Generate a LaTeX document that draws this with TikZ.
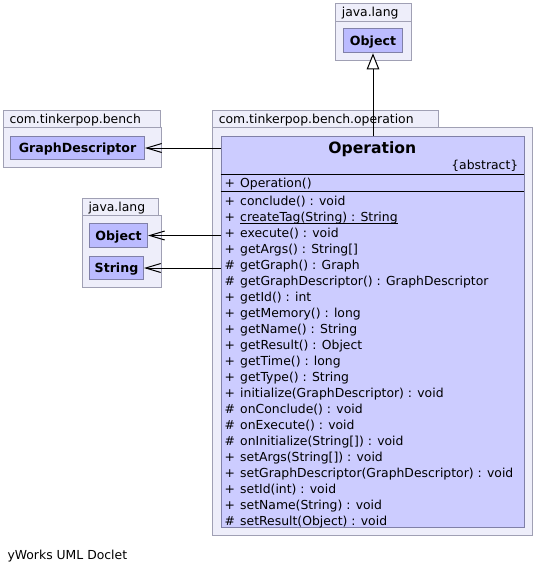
\documentclass[tikz,border=0pt]{standalone}
\usepackage{fontspec}
\setmainfont{DejaVu Sans}
\usetikzlibrary{arrows.meta}
\definecolor{pkgfill}{RGB}{238,238,250}
\definecolor{pkgdraw}{RGB}{160,160,180}
\definecolor{opfill}{RGB}{204,204,255}
\definecolor{smallfill}{RGB}{187,187,255}
\definecolor{clsdraw}{RGB}{128,128,168}
\tikzset{
  pkgbody/.style={draw=pkgdraw, fill=pkgfill, line width=1pt, inner sep=0pt, anchor=north west},
  pkgtab/.style={pkgbody, font=\fontsize{12.4}{14}\selectfont, text height=9pt, text depth=0pt, align=left, inner xsep=6.3pt, inner ysep=0pt},
  cls/.style={draw=clsdraw, fill=smallfill, line width=1pt, inner sep=0pt, anchor=north west, font=\bfseries\fontsize{12.6}{14}\selectfont, text height=9pt, text depth=0pt},
  opbox/.style={draw=clsdraw, fill=opfill, line width=1pt, inner sep=0pt, anchor=north west},
  mtxt/.style={anchor=base west, inner sep=0pt, font=\fontsize{12.4}{14}\selectfont},
  vis/.style={anchor=base west, inner sep=0pt, font=\fontsize{12.4}{14}\selectfont},
  dep/.style={line width=1pt, -{Straight Barb[length=15pt,width=9pt,line width=1pt]}},
  gen/.style={line width=1pt, -{Triangle[length=16pt,width=12.5pt,fill=white,line width=1pt]}},
}
\begin{document}
\begin{tikzpicture}[x=1pt,y=-1pt]
\useasboundingbox (0,0) rectangle (535,573);
% package java.lang (top)
\node[pkgbody, minimum width=76pt, minimum height=39.3pt] (pjl1) at (335,20.7) {};
\node[pkgtab, text width=63.4pt, minimum height=18pt] (tjl1) at (335,2.7) {java.lang};
\node[cls, minimum width=58.4pt, minimum height=24pt] (obj1) at (343.3,28.3) {Object};
% package com.tinkerpop.bench
\node[pkgbody, minimum width=158.3pt, minimum height=40pt] (pb) at (2.7,127) {};
\node[pkgtab, text width=144.7pt, minimum height=17pt] (tb) at (2.7,110) {com.tinkerpop.bench};
\node[cls, minimum width=134pt, minimum height=23pt] (gd) at (10,136) {GraphDescriptor};
% package java.lang (left)
\node[pkgbody, minimum width=79.3pt, minimum height=72pt] (pjl2) at (81.7,215) {};
\node[pkgtab, text width=63.7pt, minimum height=17pt] (tjl2) at (81.7,198) {java.lang};
\node[cls, minimum width=58pt, minimum height=24pt] (obj2) at (89,223) {Object};
\node[cls, minimum width=54pt, minimum height=23pt] (str) at (89,256) {String};
% package com.tinkerpop.bench.operation
\node[pkgbody, minimum width=319.5pt, minimum height=408pt] (po) at (212,127) {};
\node[pkgtab, text width=213.7pt, minimum height=17pt] (to) at (212,110) {com.tinkerpop.bench.operation};
\node[opbox, minimum width=303.3pt, minimum height=391pt] (op) at (220.7,136) {};
\node[anchor=base, inner sep=0pt, font=\bfseries\fontsize{15.6}{18}\selectfont] (optitle) at (372.3,153) {Operation};
\node[anchor=base east, inner sep=0pt, font=\fontsize{12.4}{14}\selectfont] (abs) at (518.5,169) {\{abstract\}};
\draw[line width=1pt] (220.7,174) -- (524,174);
\draw[line width=1pt] (220.7,191) -- (524,191);
\node[vis] (v0) at (224.5,187.5) {+};
\node[mtxt] (m0) at (240,187.5) {Operation()};
% methods
\node[vis] (v1) at (224.5,205) {+};   \node[mtxt] (m1) at (240,205) {conclude() : void};
\node[vis] (v2) at (224.5,221) {+};   \node[mtxt] (m2) at (240,221) {createTag(String) : String};
\draw[line width=0.9pt] ([yshift=-2.3pt]m2.base west) -- ([yshift=-2.3pt]m2.base east);
\node[vis] (v3) at (224.5,237) {+};   \node[mtxt] (m3) at (240,237) {execute() : void};
\node[vis] (v4) at (224.5,253) {+};   \node[mtxt] (m4) at (240,253) {getArgs() : String[]};
\node[vis] (v5) at (224.5,269) {\#};  \node[mtxt] (m5) at (240,269) {getGraph() : Graph};
\node[vis] (v6) at (224.5,285) {\#};  \node[mtxt] (m6) at (240,285) {getGraphDescriptor() : GraphDescriptor};
\node[vis] (v7) at (224.5,301) {+};   \node[mtxt] (m7) at (240,301) {getId() : int};
\node[vis] (v8) at (224.5,317) {+};   \node[mtxt] (m8) at (240,317) {getMemory() : long};
\node[vis] (v9) at (224.5,333) {+};   \node[mtxt] (m9) at (240,333) {getName() : String};
\node[vis] (v10) at (224.5,349) {+};  \node[mtxt] (m10) at (240,349) {getResult() : Object};
\node[vis] (v11) at (224.5,365) {+};  \node[mtxt] (m11) at (240,365) {getTime() : long};
\node[vis] (v12) at (224.5,381) {+};  \node[mtxt] (m12) at (240,381) {getType() : String};
\node[vis] (v13) at (224.5,397) {+};  \node[mtxt] (m13) at (240,397) {initialize(GraphDescriptor) : void};
\node[vis] (v14) at (224.5,413) {\#}; \node[mtxt] (m14) at (240,413) {onConclude() : void};
\node[vis] (v15) at (224.5,429) {\#}; \node[mtxt] (m15) at (240,429) {onExecute() : void};
\node[vis] (v16) at (224.5,445) {\#}; \node[mtxt] (m16) at (240,445) {onInitialize(String[]) : void};
\node[vis] (v17) at (224.5,461) {+};  \node[mtxt] (m17) at (240,461) {setArgs(String[]) : void};
\node[vis] (v18) at (224.5,477) {+};  \node[mtxt] (m18) at (240,477) {setGraphDescriptor(GraphDescriptor) : void};
\node[vis] (v19) at (224.5,493) {+};  \node[mtxt] (m19) at (240,493) {setId(int) : void};
\node[vis] (v20) at (224.5,509) {+};  \node[mtxt] (m20) at (240,509) {setName(String) : void};
\node[vis] (v21) at (224.5,525) {\#}; \node[mtxt] (m21) at (240,525) {setResult(Object) : void};
% connectors
\draw[gen] (op.north -| obj1.south) -- (obj1.south);
\draw[dep] (op.west |- gd.east) -- (gd.east);
\draw[dep] (op.west |- obj2.east) -- (obj2.east);
\draw[dep] (op.west |- str.east) -- (str.east);
% footer
\node[anchor=base west, inner sep=0pt, font=\fontsize{12.4}{14}\selectfont] (foot) at (7.3,559) {yWorks UML Doclet};
\end{tikzpicture}
\end{document}
